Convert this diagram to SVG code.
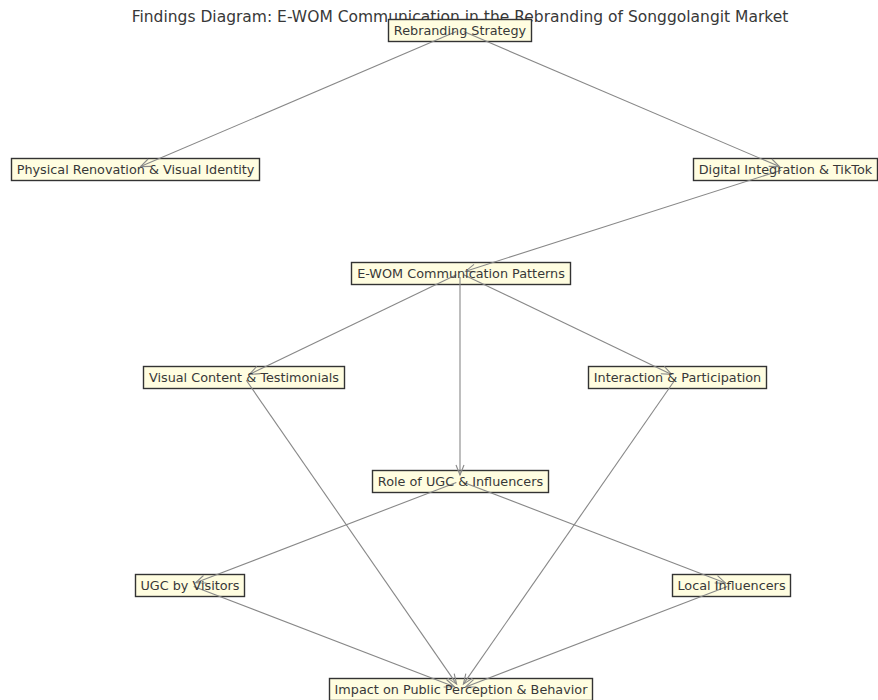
<svg xmlns="http://www.w3.org/2000/svg" width="878" height="700" viewBox="0 0 878 700">
<style>
.box{fill:#fffde0;stroke:#333;stroke-width:1.4}
.lbl{font-family:"DejaVu Sans",sans-serif;font-size:12.8px;fill:#383838;text-anchor:middle;dominant-baseline:central}
.title{font-family:"DejaVu Sans",sans-serif;font-size:15.5px;fill:#383838;text-anchor:middle}
.edge{stroke:#888;stroke-width:1.1;fill:none;marker-end:url(#ah)}
</style>
<defs>
<marker id="ah" markerUnits="userSpaceOnUse" markerWidth="14" markerHeight="12" refX="0" refY="0" viewBox="-12 -6 14 12" orient="auto" overflow="visible">
<path d="M-10,-4 L0,0 L-10,4" fill="none" stroke="#888" stroke-width="1.1"/>
</marker>
</defs>
<rect width="878" height="700" fill="#fff"/>
<text class="title" x="460" y="22">Findings Diagram: E-WOM Communication in the Rebranding of Songgolangit Market</text>
<g id="nodes-boxes">
<g id="n-rebranding"><rect class="box" x="388.5" y="19.5" width="143" height="22"/></g>
<g id="n-physical"><rect class="box" x="11.5" y="158.5" width="248" height="22"/></g>
<g id="n-digital"><rect class="box" x="693.5" y="158.5" width="184" height="22"/></g>
<g id="n-ewom"><rect class="box" x="351.5" y="262.5" width="219" height="22"/></g>
<g id="n-visual"><rect class="box" x="143.5" y="366.5" width="201" height="22"/></g>
<g id="n-interaction"><rect class="box" x="588.5" y="366.5" width="178" height="22"/></g>
<g id="n-role"><rect class="box" x="372.5" y="470.5" width="176" height="22"/></g>
<g id="n-ugc"><rect class="box" x="135.5" y="574.5" width="109" height="22"/></g>
<g id="n-local"><rect class="box" x="672.5" y="574.5" width="118" height="22"/></g>
<g id="n-impact"><rect class="box" x="329.5" y="678.5" width="263" height="22"/></g>
</g>
<g id="connectors">
<line class="edge" x1="456.3" y1="31.6" x2="140.5" y2="166.6"/>
<line class="edge" x1="463.7" y1="31.6" x2="779.5" y2="166.6"/>
<line class="edge" x1="781.2" y1="170.2" x2="465.7" y2="271.2"/>
<line class="edge" x1="456.4" y1="274.7" x2="249.4" y2="374.4"/>
<line class="edge" x1="463.6" y1="274.7" x2="671.6" y2="374.4"/>
<line class="edge" x1="460" y1="277" x2="460" y2="475"/>
<line class="edge" x1="246.3" y1="380.3" x2="456.6" y2="684.1"/>
<line class="edge" x1="674.7" y1="380.3" x2="463.4" y2="684.1"/>
<line class="edge" x1="456.3" y1="482.4" x2="195.6" y2="582.8"/>
<line class="edge" x1="463.7" y1="482.4" x2="725.4" y2="582.9"/>
<line class="edge" x1="193.7" y1="586.4" x2="454.4" y2="686.8"/>
<line class="edge" x1="727.3" y1="586.4" x2="465.6" y2="686.9"/>
</g>
<g id="labels">
<text class="lbl" x="460" y="30">Rebranding Strategy</text>
<text class="lbl" x="135.5" y="169">Physical Renovation &amp; Visual Identity</text>
<text class="lbl" x="785.5" y="169">Digital Integration &amp; TikTok</text>
<text class="lbl" x="461" y="273">E-WOM Communication Patterns</text>
<text class="lbl" x="244" y="377">Visual Content &amp; Testimonials</text>
<text class="lbl" x="677.5" y="377">Interaction &amp; Participation</text>
<text class="lbl" x="460.5" y="481">Role of UGC &amp; Influencers</text>
<text class="lbl" x="190" y="585">UGC by Visitors</text>
<text class="lbl" x="731.5" y="585">Local Influencers</text>
<text class="lbl" x="461" y="689">Impact on Public Perception &amp; Behavior</text>
</g>
</svg>
